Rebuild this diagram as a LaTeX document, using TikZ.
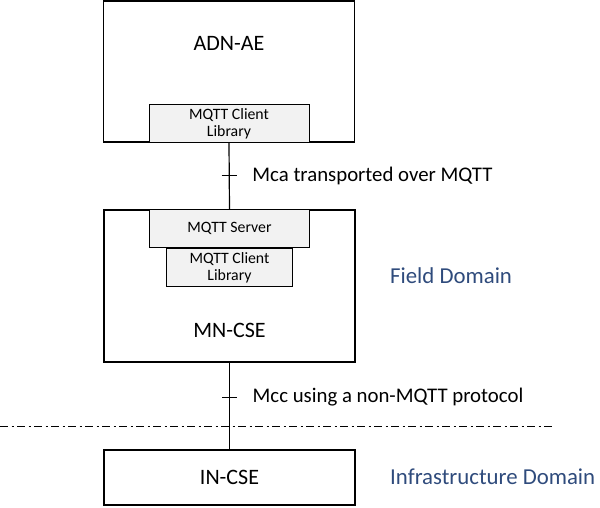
\documentclass[tikz,border=0pt]{standalone}
\usepackage{fontspec}
\setmainfont{Carlito}
\usepackage{xcolor}
\usepackage{tikz}
\usetikzlibrary{positioning,calc}
\definecolor{ink}{HTML}{000000}
\definecolor{libfill}{HTML}{F2F2F2}
\definecolor{domaintext}{HTML}{2F4B7C}

\begin{document}
\begin{tikzpicture}[
  x=1pt, y=-1pt,
  every node/.style={inner sep=0pt},
  entity/.style={rectangle, draw=ink, line width=1.3pt, fill=white, minimum width=251pt},
  lib/.style={rectangle, draw=ink, line width=0.9pt, fill=libfill, align=center,
    font=\fontsize{15.8}{17}\selectfont, minimum height=38pt},
  entname/.style={font=\fontsize{22}{26}\selectfont},
  ifc/.style={font=\fontsize{20.8}{24}\selectfont, anchor=west},
  dom/.style={font=\fontsize{22.8}{26}\selectfont, text=domaintext, anchor=west},
  link/.style={draw=ink, line width=1.2pt},
  divider/.style={draw=ink, line width=0.9pt, dash pattern=on 8pt off 3.5pt on 2pt off 3.5pt},
]
\useasboundingbox (0,0) rectangle (600,507);

\node[entity, minimum height=141pt] (adn) at (229,71.5) {};
\node[entname] (adnname) at (229,43) {ADN-AE};
\node[lib, minimum width=160pt, anchor=south] (adnlib) at ([yshift=-0.5pt]adn.south) {MQTT Client\\Library};

\node[entity, minimum height=152pt] (mn) at (229.5,286) {};
\node[lib, minimum width=160pt, anchor=north] (server) at (mn.north) {MQTT Server};
\node[lib, minimum width=126pt, anchor=north] (mnlib) at (server.south) {MQTT Client\\Library};
\node[entname] (mnname) at (229.5,330) {MN-CSE};

\node[entity, minimum height=55pt] (in) at (229.5,477.5) {};
\node[entname] (inname) at (in) {IN-CSE};

\draw[link] (adnlib.south) -- coordinate[pos=0.49] (mca) (server.north);
\draw[link] (mn.south) -- coordinate[pos=0.4] (mcc) (in.north);
\draw[link] ([xshift=-7.5pt]mca) -- ([xshift=7.5pt]mca);
\draw[link] ([xshift=-7.5pt]mcc) -- ([xshift=7.5pt]mcc);

\node[ifc, right=23pt of mca] (mcalbl) {Mca transported over MQTT};
\node[ifc, right=23pt of mcc] (mcclbl) {Mcc using a non-MQTT protocol};

\coordinate (divL) at (0,426);
\coordinate (divR) at (555,426);
\draw[divider] (divL) -- (divR);

\node[dom] (field) at (390,276) {Field Domain};
\node[dom] (infra) at (390,477) {Infrastructure Domain};
\end{tikzpicture}
\end{document}
